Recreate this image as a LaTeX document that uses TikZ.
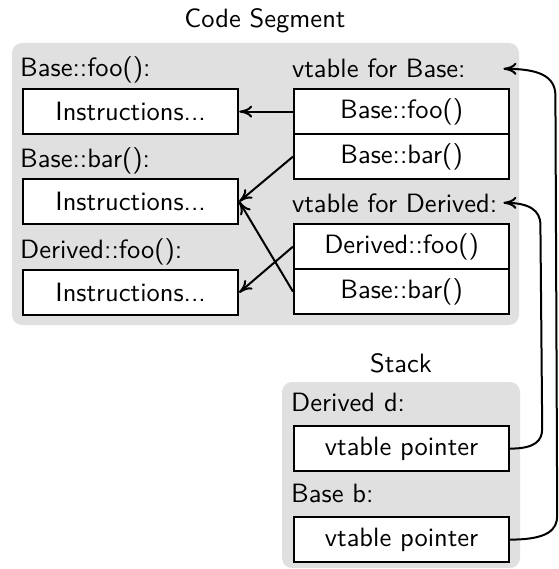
\documentclass[tikz,border=0pt]{standalone}
\usepackage{fontspec}
\setsansfont{lmsans10-regular}[Extension=.otf]
\usetikzlibrary{arrows.meta,calc}
\definecolor{segbg}{RGB}{224,224,224}
\begin{document}
\begin{tikzpicture}[x=1pt,y=-1pt,
  every node/.style={font=\fontsize{26.5}{31}\selectfont\sffamily},
  region/.style={fill=segbg, rounded corners=10pt},
  cell/.style={draw, line width=2.2pt, fill=white, minimum width=215pt, minimum height=45pt, inner sep=0pt, anchor=north west},
  lbl/.style={anchor=base west, inner sep=0pt},
  vlbl/.style={lbl, text width=211pt, align=left},
  ttl/.style={anchor=base, inner sep=0pt},
  arr/.style={line width=2pt, -{To[length=13pt,width=12pt]}},
]
\useasboundingbox (0,0) rectangle (558,569);
% regions
\fill[region] (12,43) rectangle (519,325);
\fill[region] (282,382) rectangle (520,568);
% titles
\node[ttl] (tcode) at (265,28) {Code Segment};
\node[ttl] (tstack) at (401,372) {Stack};
% code segment, left
\node[lbl] (lfoo) at (20,77) {Base::foo():};
\node[cell] (ins1) at (22,88) {Instructions...};
\node[lbl] (lbar) at (20,168) {Base::bar():};
\node[cell] (ins2) at (22,178) {Instructions...};
\node[lbl] (ldfoo) at (20,258) {Derived::foo():};
\node[cell] (ins3) at (22,269) {Instructions...};
% vtables
\node[vlbl] (vblab) at (292,78) {vtable for Base:};
\node[cell] (vb1) at (293,88) {Base::foo()};
\node[cell] (vb2) at (293,133) {Base::bar()};
\node[vlbl] (vdlab) at (292,212) {vtable for Derived:};
\node[cell] (vd1) at (293,223) {Derived::foo()};
\node[cell] (vd2) at (293,268) {Base::bar()};
% stack
\node[lbl] (ld) at (291,411) {Derived d:};
\node[cell] (pd) at (293,425) {vtable pointer};
\node[lbl] (lb) at (291,502) {Base b:};
\node[cell] (pb) at (293,516) {vtable pointer};
% connectors
\draw[arr] (vb1.west) -- (ins1.east);
\draw[arr] (vb2.west) -- (ins2.east);
\draw[arr] (vd1.west) -- (ins3.east);
\draw[arr] (vd2.west) -- (ins2.east);
\draw[arr] (pd.east) .. controls +(25,0) and +(0,12) .. ($(pd.east)+(32,-20)$)
  -- ($(vdlab.east)+(37,22)$) .. controls +(0,-15) and +(25,0) .. (vdlab.east);
\draw[arr] (pb.east) .. controls +(38,0) and +(0,14) .. ($(pb.east)+(47,-24)$)
  -- ($(vblab.east)+(52,27)$) .. controls +(0,-20) and +(35,0) .. (vblab.east);
\end{tikzpicture}
\end{document}
